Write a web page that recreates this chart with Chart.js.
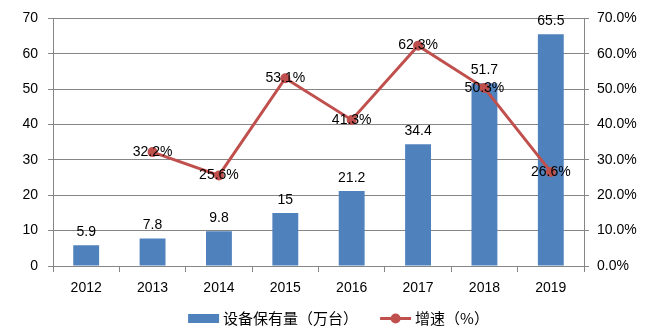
<!DOCTYPE html>
<html>
<head>
<meta charset="utf-8">
<script src="https://cdn.jsdelivr.net/npm/chart.js@4/dist/chart.umd.min.js"></script>
<style>
  html, body { margin: 0; padding: 0; background: #fff; }
  #wrap { width: 645px; height: 333px; }
</style>
</head>
<body>
<div id="wrap"><canvas id="c" width="645" height="333"></canvas></div>
<script>
// Years on the category axis
const years = ['2012', '2013', '2014', '2015', '2016', '2017', '2018', '2019'];
// Installed equipment (10k units) – bars, left axis
const deviceStock = [5.9, 7.8, 9.8, 15, 21.2, 34.4, 51.7, 65.5];
// Year-on-year growth (%) – line, right axis
const growthRate = [null, 32.2, 25.6, 53.1, 41.3, 62.3, 50.3, 26.6];
// Axis tick values
const stockTicks = [0, 10, 20, 30, 40, 50, 60, 70];
const rateTicks = [0, 10, 20, 30, 40, 50, 60, 70];

const stockLabel = '设备保有量（万台）';
const rateLabel = '增速（%）';

const BAR_BLUE = '#4F81BD';
const LINE_RED = '#C0504D';
const AXIS_GREY = '#868686';
const TICK_FONT = { family: '"Liberation Sans", Arial, sans-serif', size: 14 };

// Value labels: numbers above bars, percentages centred on the line points
const valueLabels = {
  id: 'valueLabels',
  afterDatasetsDraw(chart) {
    const ctx = chart.ctx;
    ctx.save();
    ctx.font = '14px "Liberation Sans", Arial, sans-serif';
    ctx.fillStyle = '#000';
    ctx.textAlign = 'center';
    ctx.textBaseline = 'middle';
    chart.getDatasetMeta(0).data.forEach((el, i) => {
      ctx.fillText(String(deviceStock[i]), el.x, el.y - 13);
    });
    chart.getDatasetMeta(1).data.forEach((el, i) => {
      const v = growthRate[i];
      if (v == null) return;
      ctx.fillText(v.toFixed(1) + '%', el.x, el.y);
    });
    ctx.restore();
  }
};

// Single-row legend under the axis: bar swatch and line-with-marker swatch
const legendRow = {
  id: 'legendRow',
  afterDraw(chart) {
    const ctx = chart.ctx;
    const ds = chart.data.datasets;
    ctx.save();
    ctx.font = '15px "Noto Sans CJK SC", sans-serif';
    const sw = 31, gap = 4, itemGap = 22;
    const widths = ds.map(d => sw + gap + ctx.measureText(d.label).width);
    const total = widths.reduce((a, b) => a + b, 0) + itemGap * (ds.length - 1);
    let x = chart.width / 2 - total / 2 + 16;
    const y = 318.5;
    ds.forEach((d, i) => {
      if (d.type === 'line') {
        ctx.strokeStyle = d.borderColor;
        ctx.lineWidth = 3;
        ctx.beginPath();
        ctx.moveTo(x, y);
        ctx.lineTo(x + sw, y);
        ctx.stroke();
        ctx.fillStyle = d.pointBackgroundColor;
        ctx.beginPath();
        ctx.arc(x + sw / 2, y, 5, 0, Math.PI * 2);
        ctx.fill();
      } else {
        ctx.fillStyle = d.backgroundColor;
        ctx.fillRect(x, y - 4.5, sw, 9);
      }
      ctx.fillStyle = '#000';
      ctx.textAlign = 'left';
      ctx.textBaseline = 'middle';
      ctx.fillText(d.label, x + sw + gap, y);
      x += widths[i] + itemGap;
    });
    ctx.restore();
  }
};

new Chart(document.getElementById('c'), {
  type: 'bar',
  data: {
    labels: years,
    datasets: [
      {
        type: 'bar',
        label: stockLabel,
        data: deviceStock,
        yAxisID: 'y',
        backgroundColor: BAR_BLUE,
        barPercentage: 0.39,
        categoryPercentage: 1,
        order: 2
      },
      {
        type: 'line',
        label: rateLabel,
        data: growthRate,
        yAxisID: 'y1',
        borderColor: LINE_RED,
        backgroundColor: LINE_RED,
        pointBackgroundColor: LINE_RED,
        pointBorderColor: LINE_RED,
        borderWidth: 3,
        pointRadius: 5,
        pointBorderWidth: 0,
        tension: 0,
        spanGaps: false,
        order: 1
      }
    ]
  },
  options: {
    responsive: false,
    animation: false,
    layout: { padding: { top: 17, left: 0, right: 0, bottom: 0 } },
    plugins: {
      legend: { display: false },
      tooltip: { enabled: false }
    },
    scales: {
      x: {
        offset: true,
        grid: { display: true, offset: true, drawOnChartArea: false, drawTicks: true, tickLength: 6, color: AXIS_GREY },
        border: { display: true, color: AXIS_GREY, width: 1 },
        ticks: { color: '#000', font: TICK_FONT, padding: 8, maxRotation: 0 },
        afterFit(s) { s.height = 67; }
      },
      y: {
        position: 'left',
        min: 0,
        max: 70,
        afterBuildTicks(s) { s.ticks = stockTicks.map(v => ({ value: v })); },
        grid: { color: AXIS_GREY, tickLength: 5, drawTicks: true },
        border: { display: true, color: AXIS_GREY, width: 1 },
        ticks: { color: '#000', font: TICK_FONT, padding: 10 },
        afterFit(s) { s.width = 53; }
      },
      y1: {
        position: 'right',
        min: 0,
        max: 70,
        afterBuildTicks(s) { s.ticks = rateTicks.map(v => ({ value: v })); },
        grid: { color: AXIS_GREY, drawOnChartArea: false, tickLength: 5, drawTicks: true },
        border: { display: true, color: AXIS_GREY, width: 1 },
        ticks: { color: '#000', font: TICK_FONT, padding: 8, callback: v => Number(v).toFixed(1) + '%' },
        afterFit(s) { s.width = 61; }
      }
    }
  },
  plugins: [valueLabels, legendRow]
});
</script>
</body>
</html>
